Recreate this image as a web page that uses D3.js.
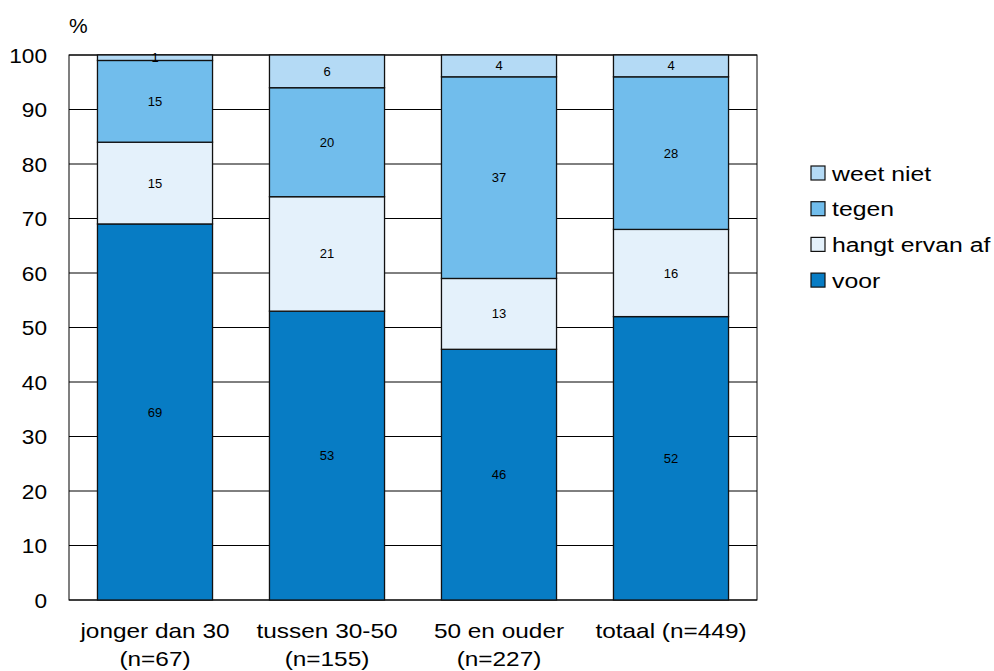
<!DOCTYPE html>
<html><head><meta charset="utf-8">
<script src="https://cdn.jsdelivr.net/npm/d3@7"></script>
<style>body{margin:0;background:#fff}svg{display:block}text{font-family:"Liberation Sans",Arial,sans-serif}</style>
</head><body><svg id="c" width="994" height="671"></svg>
<script>
const categories = [["jonger dan 30","(n=67)"],["tussen 30-50","(n=155)"],["50 en ouder","(n=227)"],["totaal (n=449)"]];
const seriesNames = ["voor","hangt ervan af","tegen","weet niet"];
const voor = [69,53,46,52];
const hangt = [15,21,13,16];
const tegen = [15,20,37,28];
const weetNiet = [1,6,4,4];
const yTicks = [0,10,20,30,40,50,60,70,80,90,100];
const colors = ["#077CC4","#E4F1FB","#71BDEC","#B4DAF5"];

const svg = d3.select("#c");
const L=69,R=757,T=55,B=600;
const x = d3.scaleBand().domain(d3.range(categories.length)).range([L,R]).paddingInner(0.331).paddingOuter(0.1655);
const y = d3.scaleLinear().domain([0,100]).range([B,T]);
const series=[voor,hangt,tegen,weetNiet];

svg.append("g").selectAll("line").data(yTicks).join("line")
 .attr("x1",L).attr("x2",R).attr("y1",d=>y(d)).attr("y2",d=>y(d)).attr("stroke","#000").attr("stroke-width",1);
svg.append("rect").attr("x",L).attr("y",T).attr("width",R-L).attr("height",B-T).attr("fill","none").attr("stroke","#000");

const rows = categories.map((c,i)=>{const o={i}; seriesNames.forEach((s,k)=>o[s]=series[k][i]); return o;});
const stack = d3.stack().keys(seriesNames)(rows);
stack.forEach((layer,k)=>{
  const g=svg.append("g");
  g.selectAll("rect").data(layer).join("rect")
   .attr("x",d=>x(d.data.i)).attr("width",x.bandwidth())
   .attr("y",d=>y(d[1])).attr("height",d=>y(d[0])-y(d[1]))
   .attr("fill",colors[k]).attr("stroke","#111").attr("stroke-width",1.3);
  g.selectAll("text").data(layer).join("text")
   .attr("x",d=>x(d.data.i)+x.bandwidth()/2).attr("y",d=>(y(d[0])+y(d[1]))/2)
   .attr("dy","0.35em").attr("text-anchor","middle").attr("font-size",13).attr("fill","#000")
   .text(d=>d[1]-d[0]);
});

function stext(px,py,sx,size,anchor,str){
  return svg.append("text").attr("transform",`translate(${px},${py}) scale(${sx},1)`)
    .attr("text-anchor",anchor).attr("font-size",size).text(str);
}

yTicks.forEach(d=>stext(47,y(d)+7.5,1.08,21,"end",d));
stext(69,33,1.0,21,"start","%");

categories.forEach((c,i)=>{
  c.forEach((line,j)=>stext(x(i)+x.bandwidth()/2,638+j*28,1.22,20,"middle",line));
});

const leg=[...seriesNames].reverse();
const legColors=[...colors].reverse();
leg.forEach((s,k)=>{
  const yy=173+k*35.7;
  svg.append("rect").attr("x",811).attr("y",yy-7).attr("width",14).attr("height",14).attr("fill",legColors[k]).attr("stroke","#111").attr("stroke-width",1.2);
  stext(832,yy+7.5,1.18,21,"start",s);
});
</script></body></html>
